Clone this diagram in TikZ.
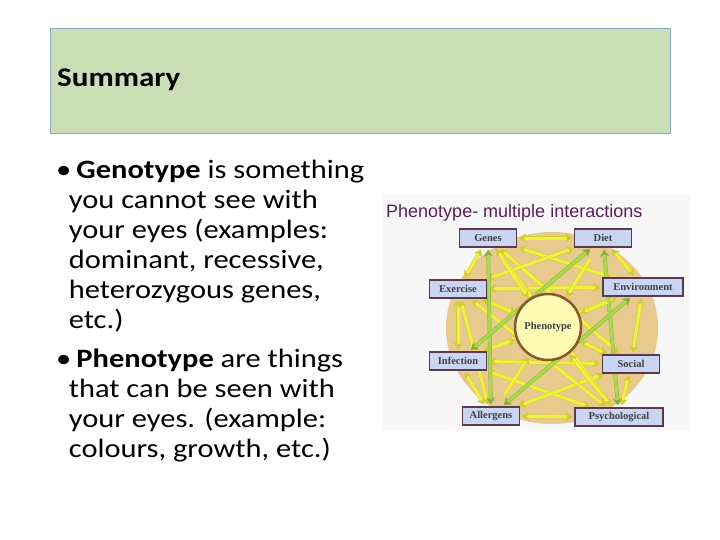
\documentclass[tikz,border=0pt]{standalone}
\usepackage{fontspec}
\setmainfont{Carlito}
\newfontfamily\boxfont{Liberation Serif}
\newfontfamily\titlefont{Liberation Sans}
\usetikzlibrary{arrows.meta}
\definecolor{headgreen}{HTML}{CADFB6}
\definecolor{headline}{HTML}{8EA9C8}
\definecolor{tanback}{HTML}{E8C98E}
\definecolor{arrowyel}{HTML}{F2F23C}
\definecolor{arrowgrn}{HTML}{A8D94A}
\definecolor{boxblue}{HTML}{C9D5F2}
\definecolor{boxline}{HTML}{5A3A4A}
\definecolor{titlepurple}{HTML}{5A1F5E}

\begin{document}
\begin{tikzpicture}[x=1pt,y=-1pt,
  factor/.style={draw=boxline, line width=1.2pt, fill=boxblue, minimum width=57pt, minimum height=18pt, inner sep=1pt, font=\boxfont\bfseries\fontsize{10.5}{12}\selectfont, text=black!75},
  link/.style={draw=arrowyel!85!black, line width=0.4pt, fill=arrowyel, double=arrowyel, double distance=3pt, {Stealth[length=7pt,width=9pt]}-{Stealth[length=7pt,width=9pt]}},
  glink/.style={link, double=arrowgrn, draw=arrowgrn!80!black}]
\useasboundingbox (0,0) rectangle (720,540);
%\draw [help lines] (0,0) grid (720,540);

% header
\node[draw=headline, fill=headgreen, minimum width=620pt, minimum height=105pt, anchor=north west, inner sep=0pt] (head) at (50,28) {};
\node[anchor=west, xscale=1.15, font=\bfseries\fontsize{27}{30}\selectfont, inner sep=0pt] (sum) at (57,80) {Summary};

% text
\node[anchor=north west, align=left, inner sep=0pt, xscale=1.15, font=\fontsize{26.5}{30}\selectfont] (body) at (56,160) {%
\textbullet\,\textbf{Genotype} is something\\
\hspace*{11pt}you cannot see with\\
\hspace*{11pt}your eyes (examples:\\
\hspace*{11pt}dominant, recessive,\\
\hspace*{11pt}heterozygous genes,\\
\hspace*{11pt}etc.)\\[9pt]
\textbullet\,\textbf{Phenotype} are things\\
\hspace*{11pt}that can be seen with\\
\hspace*{11pt}your eyes. (example:\\
\hspace*{11pt}colours, growth, etc.)};

% diagram
\fill[black!3] (383,195) rectangle (690,430);
\node[anchor=west, text=titlepurple, font=\titlefont\fontsize{18}{20}\selectfont, inner sep=0pt] (ptitle) at (386,213) {Phenotype- multiple interactions};
\fill[tanback] (552,328) ellipse (106pt and 96pt);

\node[factor] (genes) at (488,238) {Genes};
\node[factor] (diet) at (603,238) {Diet};
\node[factor] (exer) at (458,289) {Exercise};
\node[factor, minimum width=80pt] (env) at (643,287) {Environment};
\node[factor] (inf) at (458,361) {Infection};
\node[factor] (soc) at (631,364) {Social};
\node[factor] (all) at (491,416) {Allergens};
\node[factor, minimum width=88pt] (psy) at (619,417) {Psychological};

% links
\foreach \a/\b in {genes/diet, diet/env, env/soc, soc/psy, psy/all, all/inf, inf/exer, exer/genes,
  genes/env, genes/soc, diet/exer, diet/inf, exer/env, exer/soc, inf/env, inf/soc, inf/psy, all/exer, all/soc, psy/exer, env/all, psy/genes}
  \draw[link, shorten <=2pt, shorten >=2pt] (\a) -- (\b);
\foreach \a/\b in {genes/all, diet/psy, diet/inf, env/all}
  \draw[glink, shorten <=2pt, shorten >=2pt] (\a) -- (\b);

\node[circle, draw=brown!70!black, line width=2.5pt, fill=yellow!30, minimum size=66pt, font=\boxfont\bfseries\fontsize{10.5}{12}\selectfont, text=black!75] (pheno) at (548,327) {Phenotype};
\foreach \n in {genes, diet, exer, env, inf, soc, all, psy}
  \draw[link, -{Stealth[length=7pt,width=9pt]}, shorten <=14pt, shorten >=1pt] (\n) -- (pheno);

% redraw boxes on top
\node[factor] at (genes) {Genes};
\node[factor] at (diet) {Diet};
\node[factor] at (exer) {Exercise};
\node[factor, minimum width=80pt] at (env) {Environment};
\node[factor] at (inf) {Infection};
\node[factor] at (soc) {Social};
\node[factor] at (all) {Allergens};
\node[factor, minimum width=88pt] at (psy) {Psychological};
\end{tikzpicture}
\end{document}
